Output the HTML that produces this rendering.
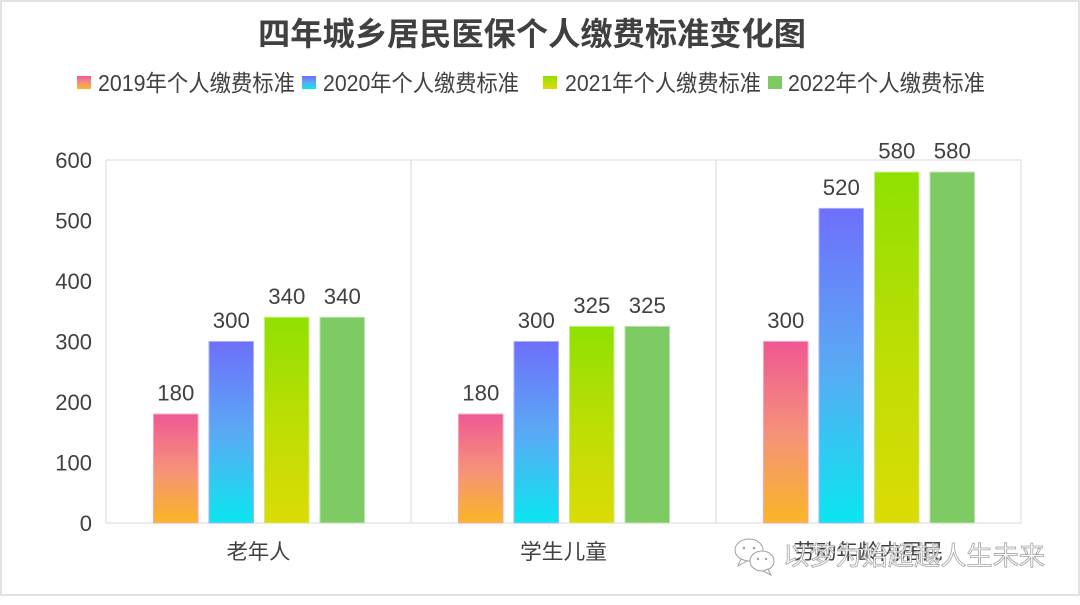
<!DOCTYPE html>
<html><head><meta charset="utf-8"><style>
html,body{margin:0;padding:0;background:#fff;}
svg{display:block;}
text{font-family:"Liberation Sans","Noto Sans CJK SC",sans-serif;fill:#404040;}
.cjk{font-family:"Noto Sans CJK SC","Liberation Sans",sans-serif;}
</style></head><body>
<svg width="1080" height="605" viewBox="0 0 1080 605" xmlns="http://www.w3.org/2000/svg">
<defs>
<linearGradient id="g19" x1="0" y1="0" x2="0" y2="1"><stop offset="0" stop-color="#ef5893"/><stop offset="0.5" stop-color="#f5917a"/><stop offset="1" stop-color="#f9b626"/></linearGradient>
<linearGradient id="g20" x1="0" y1="0" x2="0" y2="1"><stop offset="0" stop-color="#6e6ffb"/><stop offset="0.5" stop-color="#5aa9f4"/><stop offset="1" stop-color="#0ae6ef"/></linearGradient>
<linearGradient id="g21" x1="0" y1="0" x2="0" y2="1"><stop offset="0" stop-color="#8fe002"/><stop offset="0.5" stop-color="#bcde04"/><stop offset="1" stop-color="#dcdb05"/></linearGradient>
</defs>
<rect x="1" y="1" width="1078" height="594" fill="#fff" stroke="#d9d9d9" stroke-width="1.5"/>

<text x="532" y="45" text-anchor="middle" class="cjk" font-size="32" font-weight="bold" textLength="548" lengthAdjust="spacingAndGlyphs">四年城乡居民医保个人缴费标准变化图</text>

<!-- legend -->
<rect x="77" y="76" width="14" height="13" fill="url(#g19)"/>
<text x="98" y="91" font-size="23" textLength="197" lengthAdjust="spacingAndGlyphs">2019年个人缴费标准</text>
<rect x="302" y="76" width="14" height="13" fill="url(#g20)"/>
<text x="323" y="91" font-size="23" textLength="196" lengthAdjust="spacingAndGlyphs">2020年个人缴费标准</text>
<rect x="543" y="76" width="14" height="13" fill="url(#g21)"/>
<text x="565" y="91" font-size="23" textLength="196" lengthAdjust="spacingAndGlyphs">2021年个人缴费标准</text>
<rect x="768" y="76" width="14" height="13" fill="#7ecb64"/>
<text x="788" y="91" font-size="23" textLength="197" lengthAdjust="spacingAndGlyphs">2022年个人缴费标准</text>

<!-- plot area -->
<rect x="106" y="160" width="915" height="363" fill="none" stroke="#d9d9d9" stroke-width="1"/>
<line x1="411" y1="160" x2="411" y2="523" stroke="#d9d9d9" stroke-width="1"/>
<line x1="716" y1="160" x2="716" y2="523" stroke="#d9d9d9" stroke-width="1"/>

<!-- y axis labels -->
<g font-size="22" text-anchor="end">
<text x="92" y="168">600</text>
<text x="92" y="228.5">500</text>
<text x="92" y="289">400</text>
<text x="92" y="349.5">300</text>
<text x="92" y="410">200</text>
<text x="92" y="470.5">100</text>
<text x="92" y="531">0</text>
</g>

<!-- bars -->
<g stroke-width="1">
<rect x="153.5" y="414.1" width="44.5" height="108.9" fill="url(#g19)" stroke="#f7a0b8"/>
<rect x="209" y="341.5" width="44.5" height="181.5" fill="url(#g20)" stroke="#a8b0fb"/>
<rect x="264.5" y="317.3" width="44.5" height="205.7" fill="url(#g21)" stroke="#c4ee80"/>
<rect x="320" y="317.3" width="44.5" height="205.7" fill="#7ecb64" stroke="#b8e3aa"/>

<rect x="458.5" y="414.1" width="44.5" height="108.9" fill="url(#g19)" stroke="#f7a0b8"/>
<rect x="514" y="341.5" width="44.5" height="181.5" fill="url(#g20)" stroke="#a8b0fb"/>
<rect x="569.5" y="326.4" width="44.5" height="196.6" fill="url(#g21)" stroke="#c4ee80"/>
<rect x="625" y="326.4" width="44.5" height="196.6" fill="#7ecb64" stroke="#b8e3aa"/>

<rect x="763.5" y="341.5" width="44.5" height="181.5" fill="url(#g19)" stroke="#f7a0b8"/>
<rect x="819" y="208.4" width="44.5" height="314.6" fill="url(#g20)" stroke="#a8b0fb"/>
<rect x="874.5" y="172.1" width="44.5" height="350.9" fill="url(#g21)" stroke="#c4ee80"/>
<rect x="930" y="172.1" width="44.5" height="350.9" fill="#7ecb64" stroke="#b8e3aa"/>
</g>

<!-- data labels -->
<g font-size="22" text-anchor="middle">
<text x="175.8" y="400.6" textLength="37" lengthAdjust="spacingAndGlyphs">180</text>
<text x="231.3" y="328" textLength="37" lengthAdjust="spacingAndGlyphs">300</text>
<text x="286.8" y="303.8" textLength="37" lengthAdjust="spacingAndGlyphs">340</text>
<text x="342.3" y="303.8" textLength="37" lengthAdjust="spacingAndGlyphs">340</text>

<text x="480.8" y="400.6" textLength="37" lengthAdjust="spacingAndGlyphs">180</text>
<text x="536.3" y="328" textLength="37" lengthAdjust="spacingAndGlyphs">300</text>
<text x="591.8" y="312.9" textLength="37" lengthAdjust="spacingAndGlyphs">325</text>
<text x="647.3" y="312.9" textLength="37" lengthAdjust="spacingAndGlyphs">325</text>

<text x="785.8" y="328" textLength="37" lengthAdjust="spacingAndGlyphs">300</text>
<text x="841.3" y="194.9" textLength="37" lengthAdjust="spacingAndGlyphs">520</text>
<text x="896.8" y="158.6" textLength="37" lengthAdjust="spacingAndGlyphs">580</text>
<text x="952.3" y="158.6" textLength="37" lengthAdjust="spacingAndGlyphs">580</text>
</g>

<!-- category labels -->
<g font-size="21" text-anchor="middle" class="cjk">
<text x="258.5" y="559" class="cjk" textLength="64" lengthAdjust="spacingAndGlyphs">老年人</text>
<text x="563.5" y="559" class="cjk" textLength="87" lengthAdjust="spacingAndGlyphs">学生儿童</text>
<text x="868.5" y="559" class="cjk" textLength="150" lengthAdjust="spacingAndGlyphs">劳动年龄内居民</text>
</g>

<!-- watermark -->
<g fill="#fff" stroke="#a0a0a0" stroke-width="1">
<ellipse cx="749" cy="550" rx="14" ry="11"/>
<path d="M741 559 L738 566 L747 561 Z"/>
<ellipse cx="762" cy="561" rx="12" ry="10"/>
<path d="M768 569 L771 575 L763 571 Z"/>
</g>
<g fill="#a0a0a0"><circle cx="744" cy="548" r="1.3"/><circle cx="754" cy="548" r="1.3"/><circle cx="758" cy="559" r="1.2"/><circle cx="766" cy="559" r="1.2"/></g>
<text x="783" y="565" class="cjk" font-size="26" textLength="262" lengthAdjust="spacingAndGlyphs" style="fill:#ffffff;stroke:#9a9a9a;stroke-width:0.8;opacity:0.9">以梦为始超越人生未来</text>
</svg>
</body></html>
